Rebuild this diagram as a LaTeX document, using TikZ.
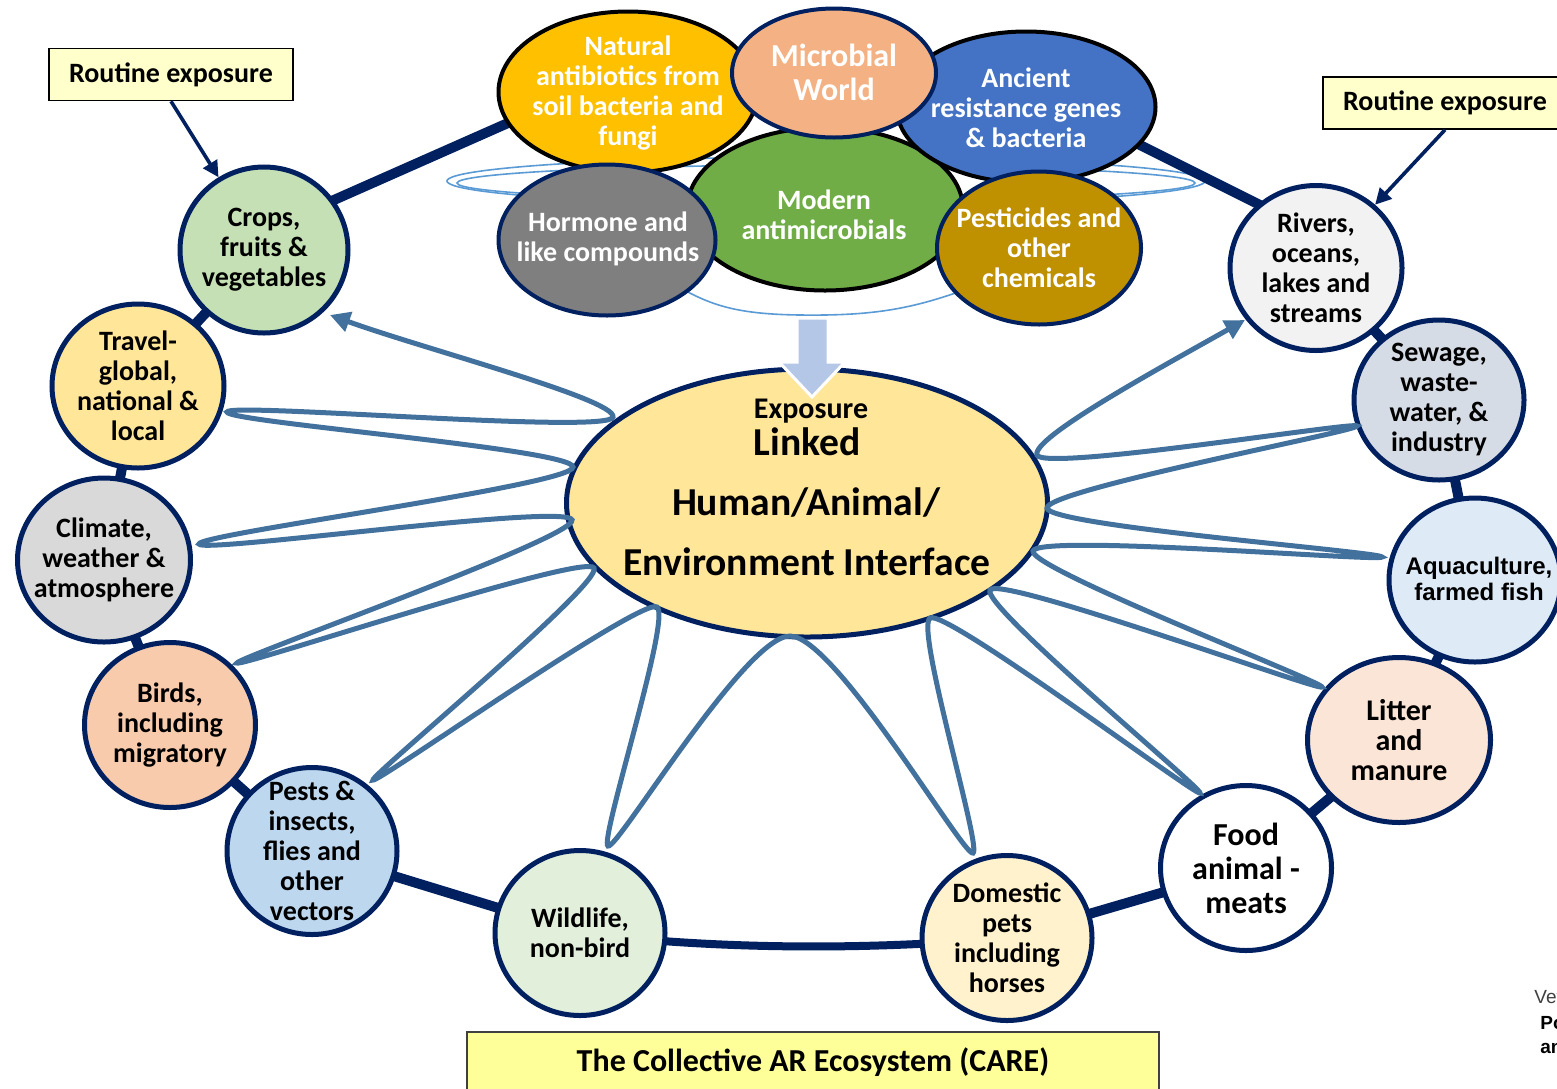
\documentclass[tikz,border=0pt]{standalone}
\usepackage{fontspec}
\setmainfont{Carlito}
\newfontfamily\arialfont{Liberation Sans}
\usetikzlibrary{arrows.meta,shapes.geometric}
\definecolor{navy}{HTML}{002060}
\definecolor{petalblue}{HTML}{41719C}
\definecolor{thinblue}{HTML}{5B9BD5}
\definecolor{blockblue}{HTML}{B4C7E7}
\definecolor{routinefill}{HTML}{FFFFCC}
\definecolor{carefill}{HTML}{FFFF99}
\definecolor{cropsfill}{HTML}{C5E0B4}
\definecolor{travelfill}{HTML}{FFE699}
\definecolor{climatefill}{HTML}{D9D9D9}
\definecolor{birdsfill}{HTML}{F8CBAD}
\definecolor{pestsfill}{HTML}{BDD7EE}
\definecolor{wildfill}{HTML}{E2EFDA}
\definecolor{domfill}{HTML}{FFF2CC}
\definecolor{litterfill}{HTML}{FBE5D6}
\definecolor{aquafill}{HTML}{DEEBF7}
\definecolor{sewagefill}{HTML}{D6DCE5}
\definecolor{riversfill}{HTML}{F2F2F2}
\definecolor{centralfill}{HTML}{FFE699}
\definecolor{natfill}{HTML}{FFC000}
\definecolor{micfill}{HTML}{F4B183}
\definecolor{ancfill}{HTML}{4472C4}
\definecolor{modfill}{HTML}{70AD47}
\definecolor{horfill}{HTML}{7F7F7F}
\definecolor{pestcfill}{HTML}{BF9000}
\begin{document}
\begin{tikzpicture}[x=0.5pt,y=-0.5pt,
  shapeo/.style={ellipse, draw=navy, line width=2.5pt, inner sep=0pt},
  otext/.style={align=center, inner sep=0pt, text=black, font=\bfseries\fontsize{14}{15}\selectfont},
  ctext/.style={align=center, inner sep=0pt, text=white, font=\bfseries\fontsize{14}{15}\selectfont},
  cshape/.style={ellipse, line width=2pt, inner sep=0pt},
  ringline/.style={draw=navy, line width=5pt},
  petal/.style={draw=petalblue, line width=2.5pt},
  thinring/.style={draw=thinblue, line width=0.8pt},
  routine/.style={draw=black, line width=0.8pt, fill=routinefill, inner sep=0pt, minimum width=122pt, minimum height=26pt, font=\bfseries\fontsize{14}{15}\selectfont},
  navyarrow/.style={draw=navy, line width=1.8pt, -{Triangle[length=8pt,width=8pt]}},
  bigtext/.style={anchor=base, inner sep=0pt, font=\bfseries\fontsize{19.8}{24}\selectfont}
]
\useasboundingbox (0,0) rectangle (1557,1088);
\fill[white] (0,0) rectangle (1557,1088);

% centres of the outer ring
\coordinate (cCrops) at (264,250);
\coordinate (cTravel) at (138,386);
\coordinate (cClimate) at (104,560);
\coordinate (cBirds) at (170,725);
\coordinate (cPests) at (312,851);
\coordinate (cWild) at (580,933);
\coordinate (cDom) at (1007,938);
\coordinate (cFood) at (1246,868);
\coordinate (cLitter) at (1399,740);
\coordinate (cAqua) at (1475,580);
\coordinate (cSewage) at (1439,400);
\coordinate (cRivers) at (1316,268);
\coordinate (ringA) at (300,215);
\coordinate (ringB) at (560,100);
\coordinate (ringC) at (1100,125);
\coordinate (ringD) at (1300,225);

% thin light-blue rings behind the cluster
\draw[thinring] (826,181) ellipse [x radius=379, y radius=24];
\draw[thinring] (826,183) ellipse [x radius=369, y radius=18];
\draw[thinring] (650,270) .. controls (700,300) and (720,314) .. (800,315)
  .. controls (880,316) and (920,308) .. (990,280);

% navy ring
\draw[ringline] (ringA) -- (ringB);
\draw[ringline] (ringC) -- (ringD);
\draw[ringline] (cCrops) -- (cTravel) -- (cClimate) -- (cBirds) -- (cPests) -- (cWild);
\draw[navy, line width=4pt] (cWild) .. controls (720,950) and (870,950) .. (cDom);
\draw[ringline] (cDom) -- (cFood) -- (cLitter) -- (cAqua) -- (cSewage) -- (cRivers);

% outer nodes
\node[shapeo, fill=cropsfill, minimum width=84pt, minimum height=83pt] (crops) at (cCrops) {};
\node[otext] (cropsT) at (cCrops) {Crops,\\fruits \&\\vegetables};
\node[shapeo, fill=travelfill, minimum width=86pt, minimum height=82pt] (travel) at (cTravel) {};
\node[otext] (travelT) at (cTravel) {Travel-\\global,\\national \&\\local};
\node[shapeo, fill=climatefill, minimum width=86.5pt, minimum height=82pt] (climate) at (cClimate) {};
\node[otext] (climateT) at (cClimate) {Climate,\\weather \&\\atmosphere};
\node[shapeo, fill=birdsfill, minimum width=85.5pt, minimum height=82.5pt] (birds) at (cBirds) {};
\node[otext] (birdsT) at (cBirds) {Birds,\\including\\migratory};
\node[shapeo, fill=pestsfill, minimum width=85pt, minimum height=83.5pt] (pests) at (cPests) {};
\node[otext] (pestsT) at (cPests) {Pests \&\\insects,\\flies and\\other\\vectors};
\node[shapeo, fill=wildfill, minimum width=85pt, minimum height=82.5pt] (wild) at (cWild) {};
\node[otext] (wildT) at (cWild) {Wildlife,\\non-bird};
\node[shapeo, fill=domfill, minimum width=85pt, minimum height=82.5pt] (dom) at (cDom) {};
\node[otext] (domT) at (cDom) {Domestic\\pets\\including\\horses};
\node[shapeo, fill=white, minimum width=85.5pt, minimum height=82.5pt] (food) at (cFood) {};
\node[otext, font=\bfseries\fontsize{16}{17}\selectfont] (foodT) at (cFood) {Food\\animal -\\meats};
\node[shapeo, fill=litterfill, minimum width=91.5pt, minimum height=82.5pt] (litter) at (cLitter) {};
\node[otext, font=\bfseries\fontsize{15}{15}\selectfont] (litterT) at (cLitter) {Litter\\and\\manure};
\node[shapeo, fill=aquafill, minimum width=86pt, minimum height=82pt] (aqua) at (cAqua) {};
\node[otext, font=\arialfont\bfseries\fontsize{12}{13}\selectfont] (aquaT) at (1479,579) {Aquaculture,\\farmed fish};
\node[shapeo, fill=sewagefill, minimum width=85pt, minimum height=80pt] (sewage) at (cSewage) {};
\node[otext] (sewageT) at (cSewage) {Sewage,\\waste-\\water, \&\\industry};
\node[shapeo, fill=riversfill, minimum width=86pt, minimum height=82.5pt] (rivers) at (cRivers) {};
\node[otext] (riversT) at (cRivers) {Rivers,\\oceans,\\lakes and\\streams};

% central ellipse
\node[shapeo, fill=centralfill, minimum width=240.5pt, minimum height=134pt] (hub) at (807,503) {};
\node[bigtext, font=\bfseries\fontsize{15}{18}\selectfont] (hubA) at (811,418) {Exposure};
\node[bigtext] (hubB) at (807,455) {Linked};
\node[bigtext] (hubC) at (806,515) {Human/Animal/};
\node[bigtext] (hubD) at (807,575) {Environment Interface};

% petal curve
\coordinate (o1) at (330,315);
\coordinate (i1) at (613,417);
\coordinate (o2) at (227,412);
\coordinate (i2) at (573,467);
\coordinate (o3) at (199,544);
\coordinate (i3) at (572,520);
\coordinate (o4) at (237,663);
\coordinate (i4) at (594,568);
\coordinate (o5) at (373,780);
\coordinate (i5) at (657,607);
\coordinate (o6) at (608,846);
\coordinate (i6) at (790,636);
\coordinate (o7) at (973,853);
\coordinate (i7) at (930,618);
\coordinate (o8) at (1200,793);
\coordinate (i8) at (990,590);
\coordinate (o9) at (1322,687);
\coordinate (i9) at (1033,551);
\coordinate (o10) at (1382,557);
\coordinate (i10) at (1047,508);
\coordinate (o11) at (1357,426);
\coordinate (i11) at (1037,455);
\coordinate (o12) at (1245,320);
\draw[petal, {Triangle[length=10pt,width=10pt]}-{Triangle[length=10pt,width=10pt]}]
 (o1) .. controls +(94,34) and +(3.2,-17.7) .. (i1)
 .. controls +(-3.2,17.7) and +(0.8,-10) .. (o2)
 .. controls +(-0.8,10) and +(-0.4,-18) .. (i2)
 .. controls +(0.4,18) and +(-1.3,-9.9) .. (o3)
 .. controls +(1.3,9.9) and +(-4.2,-17.5) .. (i3)
 .. controls +(4.2,17.5) and +(-1.6,-4.75) .. (o4)
 .. controls +(1.6,4.75) and +(-8.8,-15.7) .. (i4)
 .. controls +(8.8,15.7) and +(-3,-4) .. (o5)
 .. controls +(3,4) and +(-14.7,-10.4) .. (i5)
 .. controls +(14.7,10.4) and +(-9,-4.4) .. (o6)
 .. controls +(9,4.4) and +(-45,0) .. (i6)
 .. controls +(45,0) and +(-9.1,4.3) .. (o7)
 .. controls +(9.1,-4.3) and +(-15,10) .. (i7)
 .. controls +(15,-10) and +(-3.1,3.9) .. (o8)
 .. controls +(3.1,-3.9) and +(-9,15.6) .. (i8)
 .. controls +(9,-15.6) and +(-1.8,4.7) .. (o9)
 .. controls +(1.8,-4.7) and +(-4.1,17.5) .. (i9)
 .. controls +(4.1,-17.5) and +(-0.45,5) .. (o10)
 .. controls +(0.45,-5) and +(1,18) .. (i10)
 .. controls +(-1,-18) and +(0.85,5) .. (o11)
 .. controls +(-0.85,-5) and +(5.9,17) .. (i11)
 .. controls +(-5.9,-17) and +(-87,49) .. (o12);

% block arrow into the hub
\draw[fill=blockblue, draw=white, line width=1.5pt, line join=miter]
  (797,318) -- (828,318) -- (828,362) -- (845,362) -- (812,397) -- (779,362) -- (797,362) -- cycle;

% top cluster
\node[cshape, draw=black, fill=modfill, minimum width=138pt, minimum height=81.5pt] (modern) at (825,209) {};
\node[cshape, draw=black, fill=natfill, minimum width=129.5pt, minimum height=80.5pt] (natural) at (628,92) {};
\node[cshape, draw=black, fill=ancfill, minimum width=129.5pt, minimum height=75.5pt] (ancient) at (1026,107) {};
\node[cshape, draw=navy, fill=micfill, minimum width=102pt, minimum height=64.5pt] (microbial) at (834,73) {};
\node[cshape, draw=navy, fill=horfill, minimum width=108.5pt, minimum height=75.5pt] (hormone) at (607,240) {};
\node[cshape, draw=navy, fill=pestcfill, minimum width=102pt, minimum height=76.5pt] (pesticides) at (1039,248) {};
\node[ctext] (modernT) at (824,215) {Modern\\antimicrobials};
\node[ctext] (naturalT) at (628,93) {Natural\\antibiotics from\\soil bacteria and\\fungi};
\node[ctext] (ancientT) at (1026,108) {Ancient\\resistance genes\\\& bacteria};
\node[ctext, font=\bfseries\fontsize{16}{17}\selectfont] (microbialT) at (834,72) {Microbial\\World};
\node[ctext] (hormoneT) at (608,239) {Hormone and\\like compounds};
\node[ctext] (pesticidesT) at (1039,248) {Pesticides and\\other\\chemicals};

% routine exposure boxes
\node[routine] (rl) at (171,74.5) {Routine exposure};
\node[routine] (rr) at (1445,103) {Routine exposure};
\draw[navyarrow] (rl.south) -- (crops);
\draw[navyarrow] (rr.south) -- (rivers);

% bottom title
\node[draw=black!75, line width=0.8pt, fill=carefill, minimum width=346pt, minimum height=30pt, inner sep=0pt, font=\bfseries\fontsize{16}{18}\selectfont] (care) at (813,1062) {The Collective AR Ecosystem (CARE)};

% cut-off source text at the right edge
\node[anchor=west, inner sep=0pt, text=black!75, font=\arialfont\fontsize{9.5}{11}\selectfont] (vet) at (1534,997) {Vet};
\node[anchor=west, inner sep=0pt, font=\arialfont\bfseries\fontsize{9.5}{11}\selectfont] (po) at (1540,1023) {Po};
\node[anchor=west, inner sep=0pt, font=\arialfont\bfseries\fontsize{9.5}{11}\selectfont] (an) at (1540,1048) {an};
\end{tikzpicture}
\end{document}
